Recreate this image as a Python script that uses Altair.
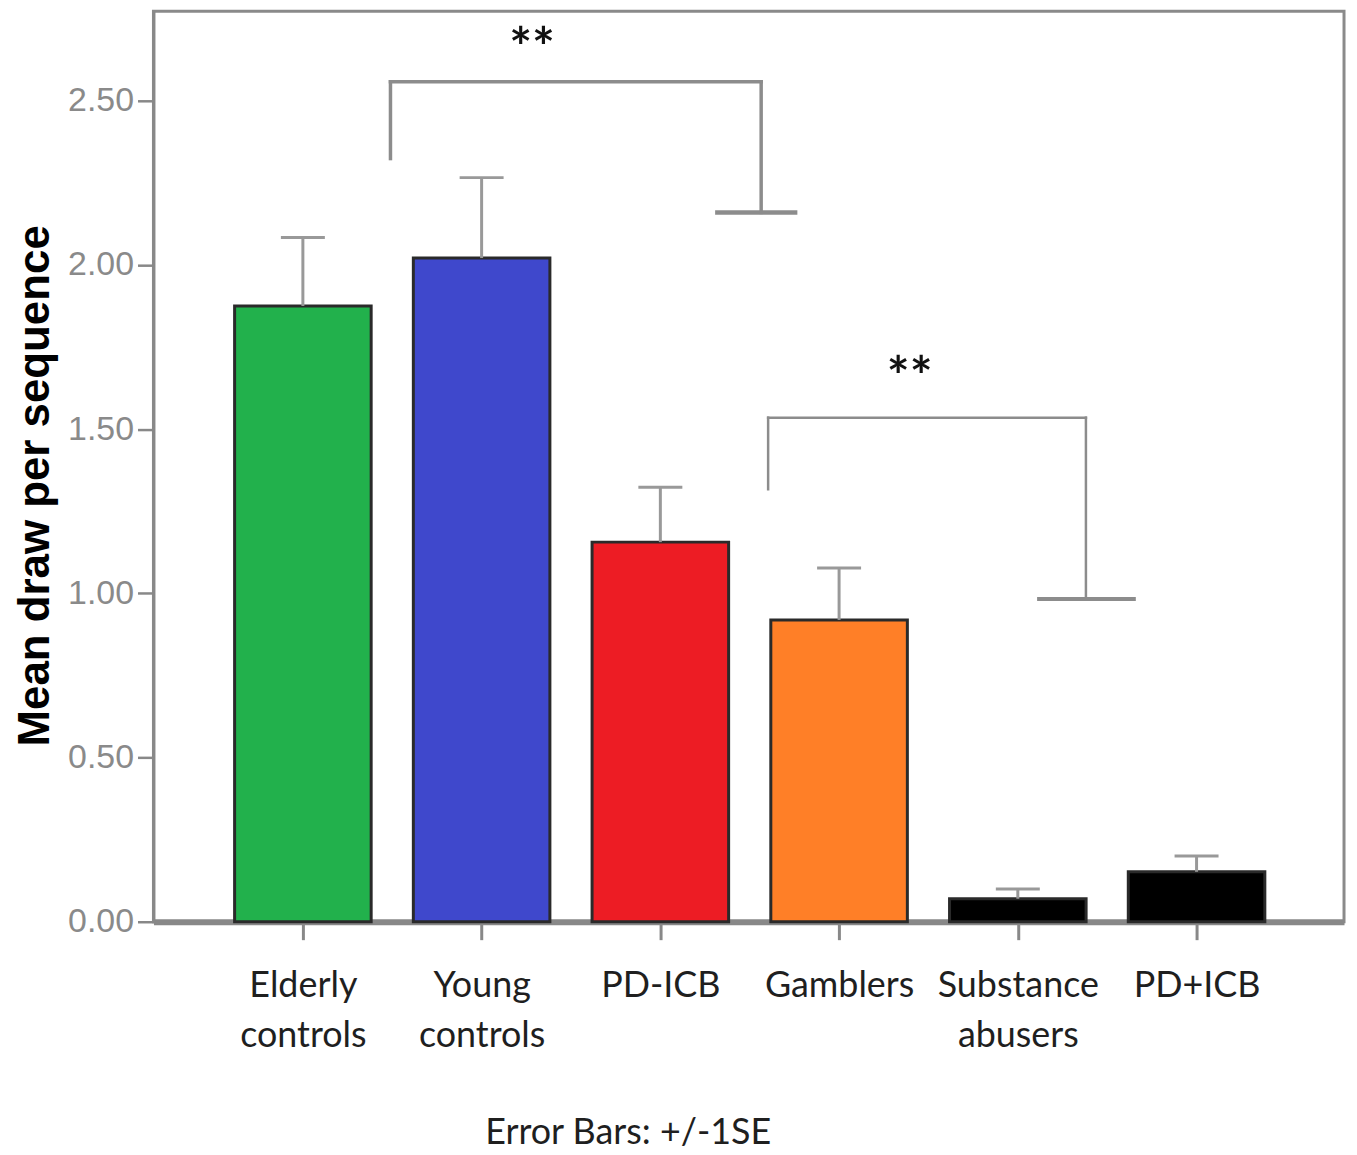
import json
import altair as alt
import pandas as pd

# ---------------- data ----------------
groups = ["Elderly\ncontrols", "Young\ncontrols", "PD-ICB", "Gamblers",
          "Substance\nabusers", "PD+ICB"]
means = [1.875, 2.021, 1.156, 0.919, 0.070, 0.152]
se = [0.209, 0.245, 0.167, 0.158, 0.030, 0.048]
colors = ["#22B14C", "#3F48CC", "#ED1C24", "#FF7F27", "#000000", "#000000"]
y_ticks = [0.0, 0.5, 1.0, 1.5, 2.0, 2.5]

# significance brackets, in data units (x = group index, y = value)
seg_x1 = [0.49, 0.49, 2.564, 2.319, 2.603, 2.603, 4.381, 4.119]
seg_x2 = [0.49, 2.564, 2.564, 2.754, 2.603, 4.381, 4.381, 4.649]
seg_y1 = [2.324, 2.558, 2.558, 2.160, 1.317, 1.535, 1.535, 0.983]
seg_y2 = [2.558, 2.558, 2.160, 2.160, 1.535, 1.535, 0.983, 0.983]
seg_w = [3.5, 3.5, 3.5, 4.5, 2.5, 2.5, 2.5, 4.0]
star_x = [1.282, 3.395]
star_y = [2.694, 1.693]
star_text = ["**", "**"]

BAR_HALF = 0.382
CAP_HALF = 0.123
X_DOMAIN = [-0.836, 5.825]
Y_DOMAIN = [0, 2.773]

df = pd.DataFrame({"idx": list(range(len(groups))), "mean": means, "se": se, "color": colors})
df["xa"] = df["idx"] - BAR_HALF
df["xb"] = df["idx"] + BAR_HALF
df["ca"] = df["idx"] - CAP_HALF
df["cb"] = df["idx"] + CAP_HALF
df["zero"] = 0.0
df["top"] = df["mean"] + df["se"]

segs = pd.DataFrame({"xa": seg_x1, "xb": seg_x2, "ya": seg_y1, "yb": seg_y2, "w": seg_w})
stars = pd.DataFrame({"xa": star_x, "ya": star_y, "t": star_text})

label_expr = json.dumps([g.split("\n") for g in groups]) + "[datum.value]"

XTITLE = "Error Bars: +/-1SE"
YTITLE = "Mean draw per sequence"

xscale = alt.Scale(domain=X_DOMAIN, nice=False, zero=False)
yscale = alt.Scale(domain=Y_DOMAIN, nice=False)

xaxis = alt.Axis(
    values=list(range(len(groups))), labelExpr=label_expr, grid=False,
    labelFont="Lato", labelFontSize=36, labelColor="#1f1f1f", labelLineHeight=50,
    labelPadding=29, tickSize=18, tickColor="#888888", tickWidth=3,
    domainColor="#888888", domainWidth=6, labelAngle=0,
    title=XTITLE, titleFont="Lato", titleFontSize=36, titleFontWeight="normal",
    titleColor="#1f1f1f", titleX=476, titleY=223, titleAlign="center",
    titleBaseline="alphabetic",
)
yaxis = alt.Axis(
    values=y_ticks, format=".2f", grid=False,
    labelFont="Liberation Sans", labelFontSize=34, labelColor="#8a8a8a",
    labelPadding=4, tickSize=16, tickColor="#888888", tickWidth=2.5,
    domainColor="#888888", domainWidth=3,
    title=YTITLE, titleFont="Liberation Sans", titleFontSize=44, titleFontWeight="bold",
    titleColor="#000000", titlePadding=10, titleY=476,
)

bars = alt.Chart(df).mark_bar(stroke="#2a2a2a", strokeWidth=3).encode(
    x=alt.X("xa:Q", scale=xscale, axis=xaxis, title=XTITLE),
    x2="xb:Q",
    y=alt.Y("zero:Q", scale=yscale, axis=yaxis, title=YTITLE),
    y2="mean:Q",
    color=alt.Color("color:N", scale=None),
)

err = alt.Chart(df).mark_rule(color="#999999", strokeWidth=3).encode(
    x=alt.X("idx:Q", scale=xscale, title=XTITLE),
    y=alt.Y("mean:Q", scale=yscale, title=YTITLE),
    y2="top:Q",
)

caps = alt.Chart(df).mark_rule(color="#999999", strokeWidth=3).encode(
    x=alt.X("ca:Q", scale=xscale, title=XTITLE),
    x2="cb:Q",
    y=alt.Y("top:Q", scale=yscale, title=YTITLE),
)

brackets = alt.Chart(segs).mark_rule(color="#8c8c8c", strokeCap="square").encode(
    x=alt.X("xa:Q", scale=xscale, title=XTITLE),
    x2="xb:Q",
    y=alt.Y("ya:Q", scale=yscale, title=YTITLE),
    y2="yb:Q",
    strokeWidth=alt.StrokeWidth("w:Q", scale=None),
)

star_marks = alt.Chart(stars).mark_text(
    font="Lato", fontSize=54, fontWeight="bold", color="#111111",
    baseline="alphabetic", dy=30, align="center",
).encode(
    x=alt.X("xa:Q", scale=xscale, title=XTITLE),
    y=alt.Y("ya:Q", scale=yscale, title=YTITLE),
    text="t:N",
)

chart = alt.layer(bars, err, caps, brackets, star_marks).properties(
    width=1195, height=914,
    padding={"top": 1, "left": 5, "right": 5, "bottom": 5},
    view=alt.ViewBackground(stroke="#8a8a8a", strokeWidth=3),
).configure(background="white")

chart.save("out.html", embed_options={"renderer": "svg", "actions": False})
